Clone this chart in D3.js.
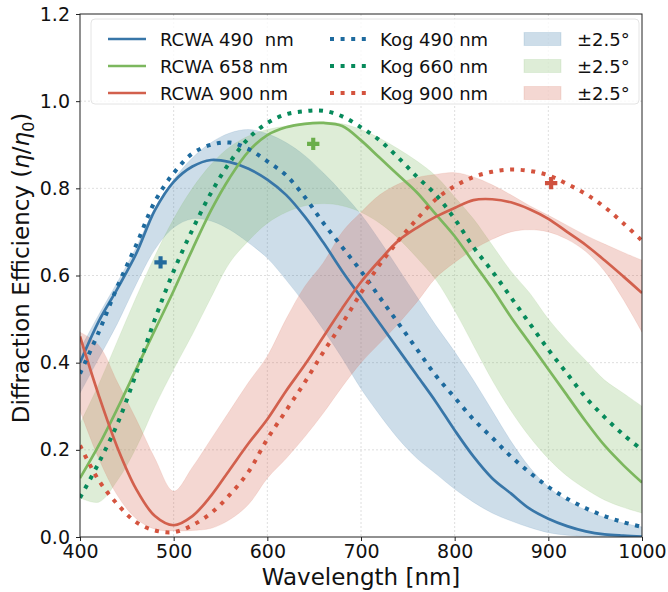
<!DOCTYPE html>
<html>
<head>
<meta charset="utf-8">
<script src="https://cdn.jsdelivr.net/npm/d3@7"></script>
<style>
    body { margin: 0; background: #fff; }
    text { font-family: "DejaVu Sans", sans-serif; fill: #111; }
    .grid line { stroke: #d6d6d6; stroke-width: 0.8; stroke-dasharray: 2,2; }
</style>
</head>
<body>
<script>
//wavelength grid in nm, shared by every series
var wavelengths = [400, 420, 440, 460, 480, 500, 520, 540, 560, 580, 600, 620, 640, 660, 680, 700,
    720, 740, 760, 780, 800, 820, 840, 860, 880, 900, 920, 940, 960, 980, 1000];

//RCWA curves
var rcwa490 = [0.40, 0.495, 0.57, 0.65, 0.75, 0.815, 0.85, 0.865, 0.86, 0.845, 0.82, 0.785, 0.735, 0.675, 0.61, 0.55,
    0.49, 0.43, 0.37, 0.31, 0.245, 0.185, 0.135, 0.10, 0.065, 0.042, 0.025, 0.013, 0.006, 0.003, 0.001];
var rcwa658 = [0.135, 0.21, 0.295, 0.385, 0.475, 0.565, 0.66, 0.75, 0.825, 0.885, 0.922, 0.94, 0.948, 0.95, 0.943, 0.91,
    0.87, 0.83, 0.79, 0.74, 0.69, 0.63, 0.57, 0.505, 0.445, 0.385, 0.325, 0.265, 0.21, 0.165, 0.125];
var rcwa900 = [0.46, 0.325, 0.205, 0.11, 0.048, 0.027, 0.048, 0.095, 0.155, 0.215, 0.27, 0.335, 0.395, 0.46, 0.525, 0.585,
    0.635, 0.68, 0.71, 0.735, 0.755, 0.773, 0.775, 0.768, 0.752, 0.73, 0.70, 0.67, 0.635, 0.598, 0.56];

//Kogelnik curves
var kog490 = [0.375, 0.47, 0.575, 0.67, 0.77, 0.835, 0.88, 0.90, 0.905, 0.89, 0.862, 0.83, 0.78, 0.72, 0.665, 0.61,
    0.55, 0.49, 0.43, 0.37, 0.32, 0.27, 0.228, 0.185, 0.148, 0.115, 0.088, 0.066, 0.048, 0.034, 0.023];
var kog660 = [0.09, 0.17, 0.26, 0.375, 0.50, 0.61, 0.705, 0.79, 0.86, 0.915, 0.95, 0.97, 0.977, 0.978, 0.965, 0.94,
    0.91, 0.87, 0.826, 0.785, 0.73, 0.665, 0.61, 0.55, 0.49, 0.43, 0.375, 0.32, 0.275, 0.235, 0.20];
var kog900 = [0.21, 0.13, 0.075, 0.034, 0.015, 0.011, 0.027, 0.055, 0.097, 0.15, 0.225, 0.29, 0.355, 0.425, 0.49, 0.56,
    0.625, 0.68, 0.73, 0.775, 0.805, 0.826, 0.838, 0.843, 0.84, 0.83, 0.81, 0.787, 0.757, 0.72, 0.68];

//+-2.5 degree bands (lower / upper edge)
var band490Lo = [0.33, 0.41, 0.49, 0.58, 0.66, 0.71, 0.73, 0.725, 0.705, 0.675, 0.64, 0.59, 0.535, 0.475, 0.41, 0.34,
    0.28, 0.225, 0.18, 0.145, 0.11, 0.08, 0.055, 0.037, 0.022, 0.01, 0.004, 0.001, 0, 0, 0];
var band490Hi = [0.43, 0.51, 0.585, 0.665, 0.755, 0.82, 0.87, 0.905, 0.927, 0.935, 0.925, 0.905, 0.875, 0.835, 0.79, 0.74,
    0.68, 0.615, 0.55, 0.485, 0.425, 0.36, 0.29, 0.22, 0.16, 0.115, 0.084, 0.062, 0.045, 0.032, 0.023];
var band658Lo = [0.09, 0.08, 0.13, 0.205, 0.30, 0.385, 0.465, 0.55, 0.63, 0.68, 0.72, 0.745, 0.76, 0.765, 0.76, 0.745,
    0.72, 0.685, 0.64, 0.59, 0.52, 0.44, 0.36, 0.29, 0.23, 0.18, 0.14, 0.11, 0.085, 0.068, 0.055];
var band658Hi = [0.26, 0.35, 0.45, 0.55, 0.645, 0.73, 0.80, 0.855, 0.895, 0.92, 0.935, 0.943, 0.95, 0.952, 0.948, 0.935,
    0.915, 0.89, 0.862, 0.828, 0.78, 0.73, 0.67, 0.61, 0.56, 0.50, 0.45, 0.405, 0.36, 0.33, 0.30];
var band900Lo = [0.29, 0.18, 0.095, 0.042, 0.018, 0.014, 0.015, 0.02, 0.04, 0.075, 0.135, 0.18, 0.23, 0.285, 0.345, 0.40,
    0.445, 0.49, 0.54, 0.595, 0.63, 0.66, 0.683, 0.70, 0.705, 0.70, 0.683, 0.655, 0.61, 0.545, 0.47];
var band900Hi = [0.47, 0.44, 0.355, 0.27, 0.18, 0.105, 0.16, 0.225, 0.29, 0.355, 0.415, 0.50, 0.575, 0.63, 0.70, 0.745,
    0.785, 0.81, 0.825, 0.832, 0.836, 0.826, 0.808, 0.785, 0.76, 0.738, 0.715, 0.692, 0.672, 0.653, 0.635];

//measured points
var markerWl = [486, 649, 903];
var markerEff = [0.63, 0.902, 0.812];

var xTicks = [400, 500, 600, 700, 800, 900, 1000];
var yTicks = [0, 0.2, 0.4, 0.6, 0.8, 1.0, 1.2];

(function(){
var blue = "#3876a8", green = "#7cb75e", red = "#d2604d";

var series = [
    {label: "RCWA 490  nm", values: rcwa490, color: blue, dotted: false},
    {label: "RCWA 658 nm", values: rcwa658, color: green, dotted: false},
    {label: "RCWA 900 nm", values: rcwa900, color: red, dotted: false},
    {label: "Kog 490 nm", values: kog490, color: "#1d6a9e", dotted: true},
    {label: "Kog 660 nm", values: kog660, color: "#078a5b", dotted: true},
    {label: "Kog 900 nm", values: kog900, color: "#d4533e", dotted: true}
];
var bands = [
    {lo: band490Lo, hi: band490Hi, color: blue},
    {lo: band658Lo, hi: band658Hi, color: green},
    {lo: band900Lo, hi: band900Hi, color: red}
];
var markerColors = ["#236a9c", "#6aae4a", "#cf513f"];

//plot frame in page pixels
var width = 668, height = 592;
var padL = 80, padR = 642, padT = 14, padB = 537;

var svg = d3.select("body").append("svg")
    .attr("width", width)
    .attr("height", height);

var x = d3.scaleLinear().domain([400, 1000]).range([padL, padR]);
var y = d3.scaleLinear().domain([0, 1.2]).range([padB, padT]);

svg.append("clipPath").attr("id", "plotClip")
    .append("rect")
    .attr("x", padL).attr("y", padT)
    .attr("width", padR - padL).attr("height", padB - padT);

//grid lines
var grid = svg.append("g").attr("class", "grid");
grid.selectAll(".gx").data(xTicks.slice(1, -1)).enter().append("line")
    .attr("x1", function(d){ return x(d); }).attr("x2", function(d){ return x(d); })
    .attr("y1", padT).attr("y2", padB);
grid.selectAll(".gy").data(yTicks.slice(1, -1)).enter().append("line")
    .attr("y1", function(d){ return y(d); }).attr("y2", function(d){ return y(d); })
    .attr("x1", padL).attr("x2", padR);

var plot = svg.append("g").attr("clip-path", "url(#plotClip)");

var curve = d3.curveCatmullRom.alpha(0.5);

//bands
var area = d3.area()
    .x(function(d){ return x(d.wl); })
    .y0(function(d){ return y(d.lo); })
    .y1(function(d){ return y(d.hi); })
    .curve(curve);

bands.forEach(function(b){
    var rows = wavelengths.map(function(w, i){ return {wl: w, lo: b.lo[i], hi: b.hi[i]}; });
    plot.append("path")
        .datum(rows)
        .attr("d", area)
        .attr("fill", b.color)
        .attr("fill-opacity", 0.25)
        .attr("stroke", b.color)
        .attr("stroke-opacity", 0.12)
        .attr("stroke-width", 1);
});

//lines
var line = d3.line()
    .x(function(d){ return x(d.wl); })
    .y(function(d){ return y(d.v); })
    .curve(curve);

series.forEach(function(s){
    var rows = wavelengths.map(function(w, i){ return {wl: w, v: s.values[i]}; });
    plot.append("path")
        .datum(rows)
        .attr("d", line)
        .attr("fill", "none")
        .attr("stroke", s.color)
        .attr("stroke-width", s.dotted ? 4 : 2.7)
        .attr("stroke-dasharray", s.dotted ? "4,6.6" : null);
});

//measured markers
var cross = d3.symbol().type(d3.symbolCross).size(85);
svg.selectAll(".marker").data(markerWl).enter().append("path")
    .attr("class", "marker")
    .attr("d", cross)
    .attr("transform", function(d, i){ return "translate(" + x(d) + "," + y(markerEff[i]) + ")"; })
    .attr("fill", function(d, i){ return markerColors[i]; });

//axes
var xAxis = svg.append("g")
    .attr("transform", "translate(0," + padB + ")")
    .call(d3.axisBottom(x).tickValues(xTicks).tickSize(4).tickPadding(4).tickFormat(d3.format("d")));
var yAxis = svg.append("g")
    .attr("transform", "translate(" + padL + ",0)")
    .call(d3.axisLeft(y).tickValues(yTicks).tickSize(4).tickPadding(6).tickFormat(d3.format(".1f")));
[xAxis, yAxis].forEach(function(a){
    a.select(".domain").remove();
    a.selectAll("line").attr("stroke", "#222");
    a.selectAll("text").attr("font-size", 19).attr("fill", "#111")
        .style("font-family", "'DejaVu Sans', sans-serif");
});

//frame
svg.append("rect")
    .attr("x", padL).attr("y", padT)
    .attr("width", padR - padL).attr("height", padB - padT)
    .attr("fill", "none").attr("stroke", "#222").attr("stroke-width", 1);

//axis titles
svg.append("text")
    .attr("x", (padL + padR) / 2).attr("y", 585)
    .attr("text-anchor", "middle")
    .attr("font-size", 23)
    .text("Wavelength [nm]");

var yTitle = svg.append("text")
    .attr("transform", "translate(29,268) rotate(-90)")
    .attr("text-anchor", "middle")
    .attr("font-size", 23);
yTitle.append("tspan").text("Diffraction Efficiency (");
yTitle.append("tspan").attr("font-style", "italic").text("η");
yTitle.append("tspan").text("/");
yTitle.append("tspan").attr("font-style", "italic").text("η");
yTitle.append("tspan").attr("font-size", 16).attr("dy", 5).text("0");
yTitle.append("tspan").attr("dy", -5).text(")");

//legend
var legend = svg.append("g");
legend.append("rect")
    .attr("x", 91).attr("y", 19)
    .attr("width", 548).attr("height", 85)
    .attr("rx", 4)
    .attr("fill", "#fff").attr("fill-opacity", 0.8)
    .attr("stroke", "#e4e4e4");

var rowY = [39, 66, 93];
series.forEach(function(s, i){
    var col = Math.floor(i / 3), row = i % 3;
    var x0 = col == 0 ? 108 : 330;
    legend.append("line")
        .attr("x1", x0).attr("x2", x0 + 38)
        .attr("y1", rowY[row]).attr("y2", rowY[row])
        .attr("stroke", s.color)
        .attr("stroke-width", s.dotted ? 4 : 2.7)
        .attr("stroke-dasharray", s.dotted ? "4,6.6" : null);
    legend.append("text")
        .attr("x", col == 0 ? 160 : 380).attr("y", rowY[row] + 6.5)
        .attr("font-size", 18)
        .style("white-space", "pre")
        .attr("xml:space", "preserve")
        .text(s.label);
});
bands.forEach(function(b, i){
    legend.append("rect")
        .attr("x", 524).attr("y", rowY[i] - 6.5)
        .attr("width", 37).attr("height", 13)
        .attr("fill", b.color).attr("fill-opacity", 0.25)
        .attr("stroke", b.color).attr("stroke-opacity", 0.15);
    legend.append("text")
        .attr("x", 577).attr("y", rowY[i] + 6.5)
        .attr("font-size", 18)
        .text("±2.5°");
});
})();
</script>
</body>
</html>
